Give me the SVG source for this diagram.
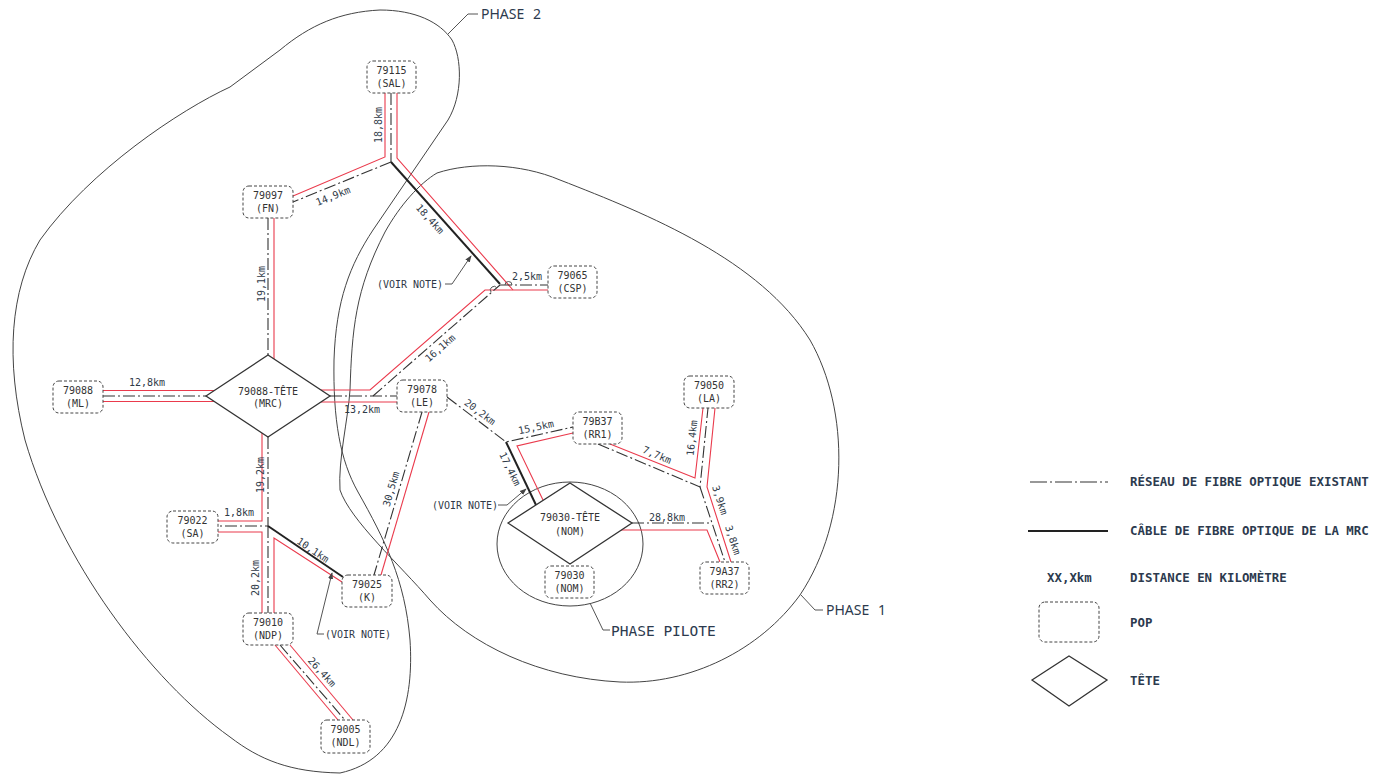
<svg xmlns="http://www.w3.org/2000/svg" width="1379" height="774" viewBox="0 0 1379 774">
<defs>
<style>
.pop{fill:#fff;stroke:#444;stroke-width:1;stroke-dasharray:3 2}
.tete{fill:#fff;stroke:#333;stroke-width:1.3}
.t{font-family:"DejaVu Sans Mono","Liberation Mono",monospace;font-size:10px;fill:#333;text-anchor:middle}
.lbl{font-family:"DejaVu Sans Mono","Liberation Mono",monospace;font-size:10px;fill:#2f3a48;text-anchor:middle}
.ex{fill:none;stroke:#333;stroke-width:1.1;stroke-dasharray:12 3 2 3}
.mrc{fill:none;stroke:#222;stroke-width:2}
.red{fill:none;stroke:#ea3a4c;stroke-width:1.1}
.zone{fill:none;stroke:#444;stroke-width:1}
.lead{fill:none;stroke:#555;stroke-width:1}
.leg{font-family:"DejaVu Sans Mono","Liberation Mono",monospace;font-size:12.4px;font-weight:bold;fill:#2c3a4e}
.ph{font-family:"Noto Sans","Liberation Sans",sans-serif;font-size:14px;fill:#2c3a4e;word-spacing:5px}
.php{font-family:"DejaVu Sans Mono","Liberation Mono",monospace;font-size:14.5px;fill:#2c3a4e}
</style>
<marker id="arr" viewBox="0 0 8 8" refX="7" refY="4" markerWidth="7" markerHeight="7" orient="auto" markerUnits="userSpaceOnUse"><path d="M0,1 L8,4 L0,7 z" fill="#444"/></marker>
</defs>

<g id="zones">
<path id="phase2" class="zone" d="M380,10 C415,10 440,22 452,40 C462,58 463,95 448,120 L373,230 C350,265 336,300 334,360 C333,420 340,460 358,492 C385,540 405,580 410,640 C414,700 400,760 340,773 C290,772 260,760 230,737 C150,680 60,560 25,440 C5,360 10,290 40,240 C90,170 180,110 230,87 L280,50 C310,25 340,12 380,10 Z"/>
<path id="phase1" class="zone" d="M437,173 C470,162 520,163 560,180 C650,215 760,260 810,340 C850,410 850,520 800,595 C760,650 690,685 620,682 C540,678 470,645 430,600 C400,565 350,520 340,490 C338,460 348,420 350,390 C352,330 355,290 385,232 C400,205 420,183 437,173 Z"/>
<ellipse id="phasepilote" class="zone" cx="570" cy="544" rx="73" ry="62"/>
<path class="lead" d="M448,34 L468,14 H478"/>
<text class="ph" x="481" y="19">PHASE 2</text>
<path class="lead" d="M801,595 L815,610 H823"/>
<text class="ph" x="826" y="615">PHASE 1</text>
<path class="lead" d="M590,603 L603,630 H610"/>
<text class="php" x="611" y="636">PHASE PILOTE</text>
</g>

<g id="connectors">
<path class="ex" d="M391,93 V162"/>
<path class="red" d="M385,93 V157 L293,196"/>
<path class="ex" d="M391,162 L293,202"/>
<path class="red" d="M397,93 V158 L513,290"/>
<path class="mrc" d="M391,162 L500,284"/>
<path class="ex" d="M500,285 H548"/>
<path class="red" d="M321,390 H370 L485,290 H548"/>
<path class="ex" d="M330,396 H397"/>
<path class="red" d="M321,402 H397"/>
<path class="ex" d="M373,396 L500,285"/>
<path class="lead" d="M505,285 a3.5,3.5 0 0 1 7,0"/>
<path class="lead" d="M491,292 a3.5,3.5 0 0 1 6,-4"/>
<path class="ex" d="M268,218 V355"/>
<path class="red" d="M274,218 V359"/>
<path class="ex" d="M103,396 H206"/>
<path class="red" d="M103,390.5 H214"/>
<path class="red" d="M103,401.5 H214"/>
<path class="ex" d="M268,437 V526 H218"/>
<path class="red" d="M262,433 V521 H218"/>
<path class="red" d="M218,532 H262 V613"/>
<path class="ex" d="M268,526 V613"/>
<path class="red" d="M274,613 V538 L342,582"/>
<path class="mrc" d="M268,526 L343,577"/>
<path class="ex" d="M422,412 L374,575"/>
<path class="red" d="M429,412 L381,575"/>
<path class="ex" d="M280,645 L345,720"/>
<path class="red" d="M275,645 L338,720"/>
<path class="red" d="M290,645 L353,720"/>
<path class="ex" d="M447,397 L506,442 L573,427"/>
<path class="red" d="M573,433 L517,446 L543,500"/>
<path class="mrc" d="M506,442 L536,505"/>
<path class="ex" d="M598,444 L700,487 L708,408"/>
<path class="red" d="M610,444 L695,478 L703,408"/>
<path class="red" d="M715,408 L707,487 L731,562"/>
<path class="ex" d="M700,487 L725,562"/>
<path class="ex" d="M632,523 H712"/>
<path class="red" d="M621,530 H707 L720,562"/>
<path class="lead" d="M445,284 H452 L471,256" marker-end="url(#arr)"/>
<path class="lead" d="M498,505 H507 L526,489" marker-end="url(#arr)"/>
<path class="lead" d="M324,634 H317 L332,573" marker-end="url(#arr)"/>
</g>

<g id="labels">
<text class="lbl" transform="translate(378,125) rotate(-90)" dy="0.35em">18,8km</text>
<text class="lbl" transform="translate(333,196) rotate(-22)" dy="0.35em">14,9km</text>
<text class="lbl" transform="translate(430,219) rotate(48)" dy="0.35em">18,4km</text>
<text class="lbl" transform="translate(527,276)" dy="0.35em">2,5km</text>
<text class="lbl" transform="translate(440,348) rotate(-41)" dy="0.35em">16,1km</text>
<text class="lbl" transform="translate(362,409)" dy="0.35em">13,2km</text>
<text class="lbl" transform="translate(147,382)" dy="0.35em">12,8km</text>
<text class="lbl" transform="translate(261,284) rotate(-90)" dy="0.35em">19,1km</text>
<text class="lbl" transform="translate(260,475) rotate(-90)" dy="0.35em">19,2km</text>
<text class="lbl" transform="translate(239,512)" dy="0.35em">1,8km</text>
<text class="lbl" transform="translate(255,578) rotate(-90)" dy="0.35em">20,2km</text>
<text class="lbl" transform="translate(313,550) rotate(34)" dy="0.35em">10,1km</text>
<text class="lbl" transform="translate(391,489) rotate(-74)" dy="0.35em">30,5km</text>
<text class="lbl" transform="translate(480,412) rotate(37)" dy="0.35em">20,2km</text>
<text class="lbl" transform="translate(536,427) rotate(-12)" dy="0.35em">15,5km</text>
<text class="lbl" transform="translate(510,469) rotate(64)" dy="0.35em">17,4km</text>
<text class="lbl" transform="translate(657,455) rotate(23)" dy="0.35em">7,7km</text>
<text class="lbl" transform="translate(692,438) rotate(-84)" dy="0.35em">16,4km</text>
<text class="lbl" transform="translate(720,500) rotate(72)" dy="0.35em">3,9km</text>
<text class="lbl" transform="translate(733,540) rotate(72)" dy="0.35em">3,8km</text>
<text class="lbl" transform="translate(667,517)" dy="0.35em">28,8km</text>
<text class="lbl" transform="translate(322,672) rotate(48)" dy="0.35em">26,4km</text>
<text class="lbl" x="410" y="288">(VOIR NOTE)</text>
<text class="lbl" x="465" y="509">(VOIR NOTE)</text>
<text class="lbl" x="358" y="638">(VOIR NOTE)</text>
</g>

<g id="n79115"><rect class="pop" x="367" y="61" width="49" height="32" rx="6"/><text class="t" x="391.5" y="74">79115</text><text class="t" x="391.5" y="87">(SAL)</text></g>
<g id="n79097"><rect class="pop" x="243" y="186" width="50" height="32" rx="6"/><text class="t" x="268" y="199">79097</text><text class="t" x="268" y="212">(FN)</text></g>
<g id="n79065"><rect class="pop" x="548" y="266" width="49" height="32" rx="6"/><text class="t" x="572.5" y="279">79065</text><text class="t" x="572.5" y="292">(CSP)</text></g>
<g id="n79088"><rect class="pop" x="53" y="381" width="50" height="32" rx="6"/><text class="t" x="78" y="394">79088</text><text class="t" x="78" y="407">(ML)</text></g>
<g id="n79078"><rect class="pop" x="397" y="380" width="50" height="32" rx="6"/><text class="t" x="422" y="393">79078</text><text class="t" x="422" y="406">(LE)</text></g>
<g id="n79B37"><rect class="pop" x="573" y="412" width="49" height="32" rx="6"/><text class="t" x="597.5" y="425">79B37</text><text class="t" x="597.5" y="438">(RR1)</text></g>
<g id="n79050"><rect class="pop" x="684" y="376" width="50" height="32" rx="6"/><text class="t" x="709" y="389">79050</text><text class="t" x="709" y="402">(LA)</text></g>
<g id="n79022"><rect class="pop" x="167" y="511" width="51" height="32" rx="6"/><text class="t" x="192.5" y="524">79022</text><text class="t" x="192.5" y="537">(SA)</text></g>
<g id="n79025"><rect class="pop" x="342" y="575" width="50" height="32" rx="6"/><text class="t" x="367" y="588">79025</text><text class="t" x="367" y="601">(K)</text></g>
<g id="n79010"><rect class="pop" x="243" y="613" width="50" height="32" rx="6"/><text class="t" x="268" y="626">79010</text><text class="t" x="268" y="639">(NDP)</text></g>
<g id="n79005"><rect class="pop" x="321" y="720" width="49" height="33" rx="6"/><text class="t" x="345.5" y="733">79005</text><text class="t" x="345.5" y="746">(NDL)</text></g>
<g id="n79030"><rect class="pop" x="545" y="566" width="49" height="32" rx="6"/><text class="t" x="569.5" y="579">79030</text><text class="t" x="569.5" y="592">(NOM)</text></g>
<g id="n79A37"><rect class="pop" x="700" y="562" width="49" height="32" rx="6"/><text class="t" x="724.5" y="575">79A37</text><text class="t" x="724.5" y="588">(RR2)</text></g>
<g id="tMRC"><polygon class="tete" points="206,396 268,355 330,396 268,437"/><text class="t" x="268" y="394.5">79088-TÊTE</text><text class="t" x="268" y="406.5">(MRC)</text></g>
<g id="tNOM"><polygon class="tete" points="508,523 570,483 632,523 570,564"/><text class="t" x="570" y="520.5">79030-TÊTE</text><text class="t" x="570" y="534.5">(NOM)</text></g>

<g id="legend">
<path class="ex" d="M1030,482 H1108" style="stroke-dasharray:17 3 2 3"/>
<text class="leg" x="1130" y="486">RÉSEAU DE FIBRE OPTIQUE EXISTANT</text>
<path class="mrc" d="M1028,531 H1108"/>
<text class="leg" x="1130" y="535">CÂBLE DE FIBRE OPTIQUE DE LA MRC</text>
<text class="leg" x="1047" y="582">XX,Xkm</text>
<text class="leg" x="1130" y="582">DISTANCE EN KILOMÈTRE</text>
<rect class="pop" x="1039" y="602" width="60" height="40" rx="6"/>
<text class="leg" x="1130" y="627">POP</text>
<polygon class="tete" points="1032,680 1069,656 1107,680 1069,706"/>
<text class="leg" x="1130" y="685">TÊTE</text>
</g>
</svg>
